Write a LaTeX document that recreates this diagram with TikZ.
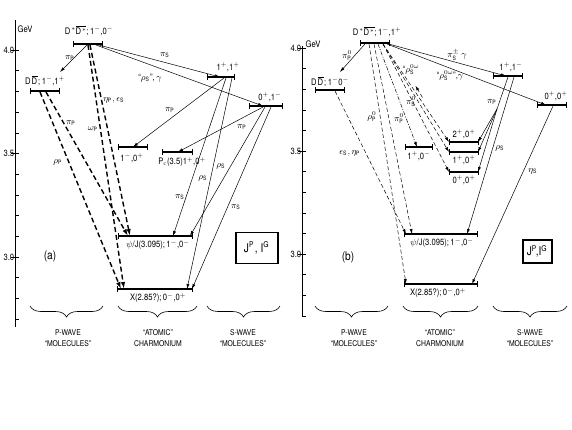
\documentclass[tikz,border=0pt]{standalone}
\usepackage{amsmath,amssymb}
\usepackage{fontspec}
\setsansfont{TeX Gyre Heros}[FakeStretch=0.85]
\usepackage{tikz}
\usetikzlibrary{arrows.meta,calc,positioning,decorations.pathreplacing}

\begin{document}
\begin{tikzpicture}[
    x=1pt, y=-1pt,
    font=\sffamily\fontsize{9}{10}\selectfont,
    lvl/.style={inner sep=0pt, outer sep=0pt, minimum height=0pt,
      append after command={(\tikzlastnode.west) edge[lvlbar] (\tikzlastnode.east)}},
    lvlbar/.style={line width=1.1pt, arrows={Bar[width=6pt]-Bar[width=6pt]}},
    lbl/.style={inner sep=0.5pt},
    arr/.style={-{Latex[length=5pt,width=3pt]}, line width=0.5pt},
    farr/.style={-{Latex[length=7pt,width=4.5pt]}, line width=1.4pt, dash pattern=on 5pt off 3pt},
    darr/.style={arr, dash pattern=on 4pt off 2.5pt},
    ddarr/.style={arr, dash pattern=on 4pt off 1.5pt on 1pt off 1.5pt},
    jbox/.style={draw, line width=1.2pt, inner sep=2pt, font=\sffamily\fontsize{12}{13}\selectfont},
    brc/.style={decorate, decoration={brace, mirror, amplitude=11pt}, line width=0.6pt},
    grptxt/.style={align=center, font=\sffamily\fontsize{8}{11}\selectfont},
    axis/.style={line width=0.6pt}
  ]
  \useasboundingbox (0,0) rectangle (572,429);

  % ---- (a) energy axis
  \draw[axis] (15,20) -- (15,327);
  \foreach \k in {0,...,13} \draw[axis] (15,50+20.7*\k) -- ++(4,0);
  \foreach \k/\v in {0/4.0,5/3.5,10/3.0}
    \draw[axis] (11,50+20.7*\k) -- ++(4,0) node[lbl, left] (tkA\k) {\v};
  \node[lbl, anchor=west] (gevA) at (17,29) {GeV};

  % ---- (a) levels
  \node[lvl, minimum width=30] (dsA) at (88,44) {};
  \node[lvl, minimum width=30] (ddA) at (45,91) {};
  \node[lvl, minimum width=28] (aA) at (221,77) {};
  \node[lvl, minimum width=34] (bA) at (266,106) {};
  \node[lvl, minimum width=30] (cA) at (133,147) {};
  \node[lvl, minimum width=31] (pcA) at (177.5,152) {};
  \node[lvl, minimum width=75] (psiA) at (155.5,236) {};
  \node[lvl, minimum width=76] (xA) at (155,289) {};

  \node[lbl] (dsAt) at (89,31) {$\mathsf{D^*\overline{D^*}}$;\,1$^-$,0$^-$};
  \node[lbl] (ddAt) at (45,81) {$\mathsf{D\overline{D}}$;\,1$^-$,1$^+$};
  \node[lbl] (aAt) at (228,67) {1$^+$,1$^+$};
  \node[lbl] (bAt) at (270,97) {0$^+$,1$^-$};
  \node[lbl] (cAt) at (132,158) {1$^-$,0$^+$};
  \node[lbl] (pcAt) at (182,162) {P$_\mathrm{c}$(3.5)1$^+$,0$^+$};
  \node[lbl] (psiAt) at (158,245) {$\psi$/J(3.095);\,1$^-$,0$^-$};
  \node[lbl] (xAt) at (158,298) {X(2.85?);\,0$^-$,0$^+$};
  \node[jbox, minimum width=42, minimum height=31] (jA) at (257,248) {J$^\mathsf{P}$,\ I$^\mathsf{G}$};
  \node[lbl, font=\sffamily\fontsize{12}{13}\selectfont] (tagA) at (50,256) {(a)};

  % ---- (a) transitions
  \draw[arr] ($(dsA.west)+(15,0)$) -- ($(ddA.east)+(0,-19)$);
  \draw[arr] ($(dsA.east)+(-8,0)$) -- ($(aA.west)+(13,0)$);
  \draw[arr] ($(dsA.east)+(-7,1)$) -- ($(bA.west)+(14,0)$);
  \draw[arr] ($(aA.west)+(17,1)$) -- ($(cA.west)+(15,0)$);
  \draw[arr] ($(bA.west)+(14,1)$) -- ($(pcA.west)+(16,0)$);
  \draw[arr] ($(aA.west)+(19,1)$) -- ($(psiA.west)+(55,0)$);
  \draw[arr] ($(aA.west)+(25,1)$) -- ($(xA.west)+(70,0)$);
  \draw[arr] ($(bA.west)+(16,1)$) -- ($(psiA.east)+(-3,0)$);
  \draw[arr] ($(bA.west)+(22,1)$) -- ($(xA.east)+(-1,0)$);
  \draw[farr] ($(ddA.west)+(10,1)$) -- ($(xA.west)+(4,0)$);
  \draw[farr] ($(ddA.west)+(16,1)$) -- ($(psiA.west)+(10,0)$);
  \draw[farr] ($(dsA.west)+(15,1)$) -- ($(xA.west)+(7,0)$);
  \draw[farr] ($(dsA.west)+(17,1)$) -- ($(psiA.west)+(12,0)$);

  \node[lbl] (pA1) at (70,58) {$\pi_{\mathsf P}$};
  \node[lbl] (pA2) at (165,55) {$\pi_{\mathsf S}$};
  \node[lbl] (pA3) at (150,78) {``$\rho_{\mathsf S}$'',\,$\gamma$};
  \node[lbl] (pA4) at (170,110) {$\pi_{\mathsf P}$};
  \node[lbl] (pA5) at (242,127) {$\pi_{\mathsf P}$};
  \node[lbl] (pA6) at (180,197) {$\pi_{\mathsf S}$};
  \node[lbl] (pA7) at (203,178) {$\rho_{\mathsf S}$};
  \node[lbl] (pA8) at (221,166) {$\rho_{\mathsf S}$};
  \node[lbl] (pA9) at (236,207) {$\pi_{\mathsf S}$};
  \node[lbl] (pA10) at (58,162) {$\rho_{\mathsf P}$};
  \node[lbl] (pA11) at (71,123) {$\pi_{\mathsf P}$};
  \node[lbl] (pA12) at (93,129) {$\omega_{\mathsf P}$};
  \node[lbl] (pA13) at (114,100) {$\eta_{\mathsf P},\epsilon_{\mathsf S}$};

  % ---- (a) groups
  \draw[brc] (30,306) -- (103,306);
  \draw[brc] (118,306) -- (197,306);
  \draw[brc] (207,306) -- (280,306);
  \node[grptxt] (pwA) at (68,338) {P-WAVE\\``MOLECULES''};
  \node[grptxt] (acA) at (158,338) {``ATOMIC''\\CHARMONIUM};
  \node[grptxt] (swA) at (243,338) {S-WAVE\\``MOLECULES''};

  % ---- (b) energy axis
  \draw[axis] (302,46) -- (302,316) -- ++(4,0);
  \foreach \k in {0,...,13} \draw[axis] (302,48+20.6*\k) -- ++(4,0);
  \foreach \k/\v in {0/4.0,5/3.5,10/3.0}
    \draw[axis] (298,48+20.6*\k) -- ++(4,0) node[lbl, left] (tkB\k) {\v};
  \node[lbl, anchor=west] (gevB) at (305,44) {GeV};

  % ---- (b) levels
  \node[lvl, minimum width=30] (dsB) at (375,43) {};
  \node[lvl, minimum width=30] (ddB) at (330,90) {};
  \node[lvl, minimum width=30] (aB) at (508,76) {};
  \node[lvl, minimum width=30] (bB) at (552,105) {};
  \node[lvl, minimum width=28] (cB) at (419,147) {};
  \node[lvl, minimum width=30] (c2B) at (464,142) {};
  \node[lvl, minimum width=30] (c1B) at (464,152) {};
  \node[lvl, minimum width=30] (c0B) at (464,172) {};
  \node[lvl, minimum width=74] (psiB) at (441,234) {};
  \node[lvl, minimum width=74] (xB) at (441,284) {};

  \node[lbl] (dsBt) at (377,32) {$\mathsf{D^*\overline{D^*}}$;\,1$^-$,1$^+$};
  \node[lbl] (ddBt) at (330,82) {$\mathsf{D\overline{D}}$;\,1$^-$0$^-$};
  \node[lbl] (aBt) at (511,67) {1$^+$,1$^-$};
  \node[lbl] (bBt) at (556,96) {0$^+$,0$^+$};
  \node[lbl] (cBt) at (419,156) {1$^+$,0$^-$};
  \node[lbl] (c2Bt) at (464,134) {2$^+$,0$^+$};
  \node[lbl] (c1Bt) at (464,160) {1$^+$,0$^+$};
  \node[lbl] (c0Bt) at (464,180) {0$^+$,0$^+$};
  \node[lbl] (psiBt) at (442,243) {$\psi$/J(3.095);\,1$^-$,0$^-$};
  \node[lbl] (xBt) at (438,293) {X(2.85?);\,0$^-$,0$^+$};
  \node[jbox, minimum width=29, minimum height=23, inner sep=1pt] (jB) at (537.5,251.5) {J$^\mathsf{P}$\!,I$^\mathsf{G}$};
  \node[lbl, font=\sffamily\fontsize{12}{13}\selectfont] (tagB) at (348,257) {(b)};

  % ---- (b) transitions
  \coordinate (fanB) at (497,109);
  \draw[arr] ($(dsB.west)+(5,1)$) -- ($(ddB.east)+(-5,-18)$);
  \draw[arr] ($(dsB.east)+(-5,0)$) -- ($(aB.west)+(13,0)$);
  \draw[arr] ($(dsB.east)+(-3,1)$) -- ($(bB.west)+(9,0)$);
  \foreach \c in {c2B,c1B,c0B}
    \draw[darr] ($(dsB.east)+(-7,1)$) -- (\c.west);
  \draw[darr] ($(c2B.west)!0.45!(dsB.east)$) -- ($(c2B.west)!0.57!(dsB.east)$);
  \draw[ddarr] ($(dsB.west)+(18,1)$) -- ($(cB.west)+(12,0)$);
  \draw[darr] ($(dsB.west)+(9,1)$) -- ($(xB.west)+(2,0)$);
  \draw[darr] ($(dsB.west)+(14,1)$) -- ($(psiB.west)+(8,0)$);
  \draw[darr] ($(ddB.west)+(20,1)$) -- ($(psiB.west)+(2,0)$);
  \draw[line width=0.5pt] ($(aB.west)+(15,1)$) -- (fanB);
  \foreach \c in {c2B,c1B,c0B}
    \draw[arr] (fanB) -- ($(\c.east)+(-1,0)$);
  \draw[arr] ($(aB.west)+(21,1)$) -- ($(psiB.east)+(-11,0)$);
  \draw[arr] ($(bB.west)+(16,1)$) -- ($(xB.east)+(-6,0)$);

  \node[lbl] (pB1) at (347,56) {$\pi^0_{\mathsf P}$};
  \node[lbl] (pB2) at (457,55) {$\pi^\pm_{\mathsf S}\ \gamma$};
  \node[lbl] (pB3) at (450,76) {``$\rho^{0\omega}_{\mathsf S}$'',$\gamma$};
  \node[lbl] (pB4) at (411,70) {``$\rho^{0\omega}_{\mathsf S}$};
  \node[lbl] (pB5) at (411,102) {$\pi^0_{\mathsf S}$};
  \node[lbl] (pB6) at (372,117) {$\rho^0_{\mathsf P}$};
  \node[lbl] (pB7) at (399,119) {$\pi^0_{\mathsf P}$};
  \node[lbl] (pB8) at (350,153) {$\epsilon_{\mathsf S},\eta_{\mathsf P}$};
  \node[lbl] (pB9) at (492,102) {$\pi_{\mathsf P}$};
  \node[lbl] (pB10) at (500,148) {$\rho_{\mathsf S}$};
  \node[lbl] (pB11) at (533,171) {$\eta_{\mathsf S}$};

  % ---- (b) groups
  \draw[brc] (315,306) -- (388,306);
  \draw[brc] (403,306) -- (478,306);
  \draw[brc] (493,306) -- (567,306);
  \node[grptxt] (pwB) at (354,338) {P-WAVE\\``MOLECULES''};
  \node[grptxt] (acB) at (440,338) {``ATOMIC''\\CHARMONIUM};
  \node[grptxt] (swB) at (530,338) {S-WAVE\\``MOLECULES''};
\end{tikzpicture}
\end{document}
